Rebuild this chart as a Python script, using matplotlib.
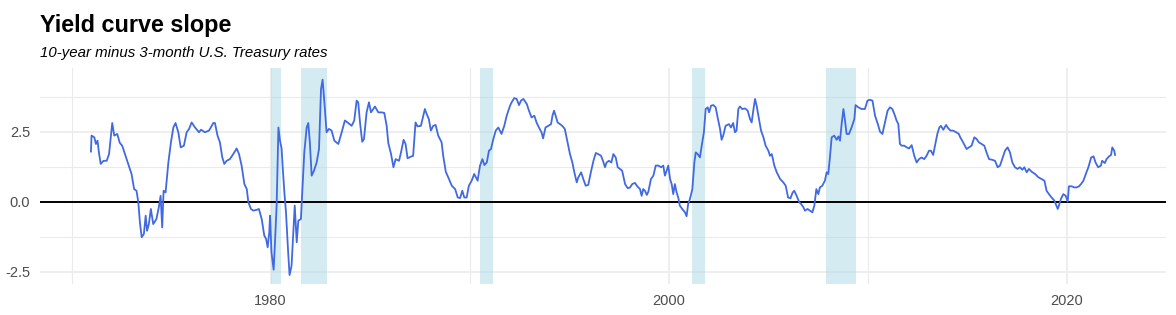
import matplotlib
matplotlib.use("Agg")
import matplotlib.pyplot as plt
from matplotlib.ticker import MultipleLocator

# spread between 10-year and 3-month treasury
years = [1970.97, 1971.0, 1971.14, 1971.22, 1971.3, 1971.37, 1971.46, 1971.6, 1971.76, 1971.88,
         1972.04, 1972.14, 1972.29, 1972.42, 1972.54, 1972.68, 1972.84, 1973.01, 1973.14, 1973.26,
         1973.35, 1973.43, 1973.52, 1973.63, 1973.72, 1973.79, 1973.88, 1973.98, 1974.1, 1974.26,
         1974.38, 1974.47, 1974.55, 1974.62, 1974.72, 1974.86, 1974.99, 1975.11, 1975.22, 1975.36,
         1975.48, 1975.64, 1975.78, 1975.9, 1976.03, 1976.2, 1976.4, 1976.5, 1976.7, 1976.9, 1977.12,
         1977.2, 1977.33, 1977.45, 1977.57, 1977.67, 1977.79, 1977.95, 1978.12, 1978.29, 1978.41,
         1978.54, 1978.68, 1978.8, 1978.88, 1979.01, 1979.13, 1979.3, 1979.41, 1979.55, 1979.68,
         1979.77, 1979.85, 1979.93, 1979.97, 1980.04, 1980.15, 1980.21, 1980.3, 1980.39, 1980.47,
         1980.55, 1980.6, 1980.69, 1980.77, 1980.88, 1980.95, 1981.05, 1981.13, 1981.21, 1981.31,
         1981.39, 1981.52, 1981.59, 1981.69, 1981.81, 1981.89, 1981.97, 1982.06, 1982.18, 1982.31,
         1982.43, 1982.53, 1982.61, 1982.7, 1982.81, 1982.93, 1983.06, 1983.2, 1983.4, 1983.57,
         1983.73, 1983.9, 1984.07, 1984.2, 1984.32, 1984.4, 1984.49, 1984.6, 1984.69, 1984.82,
         1984.94, 1985.04, 1985.24, 1985.41, 1985.58, 1985.71, 1985.83, 1985.91, 1986.05, 1986.17,
         1986.28, 1986.45, 1986.55, 1986.68, 1986.78, 1986.88, 1987.08, 1987.16, 1987.28, 1987.38,
         1987.55, 1987.67, 1987.75, 1987.84, 1987.95, 1988.05, 1988.17, 1988.29, 1988.42, 1988.59,
         1988.67, 1988.8, 1988.96, 1989.1, 1989.27, 1989.4, 1989.52, 1989.63, 1989.73, 1989.85,
         1989.96, 1990.1, 1990.23, 1990.4, 1990.52, 1990.64, 1990.74, 1990.86, 1990.97, 1991.07,
         1991.19, 1991.31, 1991.44, 1991.6, 1991.74, 1991.86, 1992.03, 1992.11, 1992.24, 1992.36,
         1992.48, 1992.58, 1992.7, 1992.87, 1992.98, 1993.11, 1993.25, 1993.36, 1993.48, 1993.61,
         1993.69, 1993.81, 1993.95, 1994.09, 1994.16, 1994.24, 1994.32, 1994.42, 1994.54, 1994.65,
         1994.78, 1994.92, 1995.04, 1995.16, 1995.26, 1995.38, 1995.46, 1995.6, 1995.71, 1995.83,
         1995.96, 1996.09, 1996.22, 1996.34, 1996.46, 1996.6, 1996.7, 1996.8, 1996.88, 1997.0,
         1997.12, 1997.22, 1997.34, 1997.44, 1997.55, 1997.66, 1997.81, 1997.94, 1998.06, 1998.17,
         1998.31, 1998.42, 1998.56, 1998.64, 1998.72, 1998.81, 1998.9, 1998.98, 1999.11, 1999.23,
         1999.35, 1999.48, 1999.62, 1999.73, 1999.81, 1999.9, 1999.98, 2000.07, 2000.15, 2000.23,
         2000.31, 2000.4, 2000.48, 2000.56, 2000.68, 2000.82, 2000.9, 2000.98, 2001.07, 2001.19,
         2001.29, 2001.36, 2001.46, 2001.57, 2001.66, 2001.77, 2001.86, 2001.96, 2002.03, 2002.13,
         2002.25, 2002.36, 2002.46, 2002.58, 2002.66, 2002.74, 2002.86, 2003.03, 2003.13, 2003.24,
         2003.33, 2003.41, 2003.5, 2003.58, 2003.7, 2003.84, 2003.97, 2004.09, 2004.17, 2004.25,
         2004.34, 2004.42, 2004.54, 2004.64, 2004.76, 2004.87, 2005.01, 2005.09, 2005.18, 2005.31,
         2005.43, 2005.6, 2005.76, 2005.88, 2006.0, 2006.12, 2006.23, 2006.31, 2006.43, 2006.55,
         2006.65, 2006.77, 2006.85, 2006.98, 2007.1, 2007.22, 2007.32, 2007.42, 2007.52, 2007.6,
         2007.72, 2007.85, 2007.94, 2008.02, 2008.11, 2008.19, 2008.32, 2008.44, 2008.53, 2008.61,
         2008.69, 2008.78, 2008.86, 2008.94, 2009.06, 2009.19, 2009.33, 2009.39, 2009.53, 2009.69,
         2009.86, 2009.99, 2010.11, 2010.24, 2010.37, 2010.51, 2010.62, 2010.74, 2010.87, 2011.0,
         2011.12, 2011.24, 2011.34, 2011.45, 2011.54, 2011.62, 2011.71, 2011.84, 2011.96, 2012.08,
         2012.21, 2012.34, 2012.46, 2012.58, 2012.71, 2012.84, 2012.96, 2013.08, 2013.18, 2013.29,
         2013.38, 2013.5, 2013.6, 2013.68, 2013.8, 2013.94, 2014.04, 2014.16, 2014.28, 2014.45,
         2014.58, 2014.65, 2014.75, 2014.97, 2015.09, 2015.22, 2015.36, 2015.47, 2015.59, 2015.73,
         2015.86, 2015.98, 2016.1, 2016.24, 2016.4, 2016.53, 2016.65, 2016.76, 2016.9, 2017.03,
         2017.15, 2017.27, 2017.4, 2017.53, 2017.65, 2017.77, 2017.87, 2017.99, 2018.1, 2018.24,
         2018.41, 2018.58, 2018.74, 2018.88, 2018.99, 2019.11, 2019.24, 2019.38, 2019.45, 2019.55,
         2019.61, 2019.71, 2019.83, 2019.95, 2020.05, 2020.11, 2020.25, 2020.38, 2020.5, 2020.62,
         2020.72, 2020.84, 2020.96, 2021.09, 2021.23, 2021.35, 2021.45, 2021.58, 2021.72, 2021.78,
         2021.92, 2022.0, 2022.13, 2022.23, 2022.29, 2022.39, 2022.43]
spread = [1.79, 2.36, 2.3, 2.06, 2.18, 1.76, 1.35, 1.46, 1.46, 1.7,
          2.81, 2.36, 2.42, 2.1, 2.0, 1.7, 1.35, 0.99, 0.45, 0.39,
          -0.02, -0.74, -1.27, -1.15, -0.5, -1.04, -0.8, -0.26, -0.8, -0.62,
          -0.2, 0.21, -0.92, 0.39, 0.33, 1.4, 2.12, 2.65, 2.81, 2.48,
          1.94, 2.0, 2.48, 2.6, 2.83, 2.65, 2.48, 2.57, 2.48, 2.54, 2.81,
          2.81, 2.36, 2.12, 1.58, 1.35, 1.46, 1.52, 1.7, 1.9, 1.7,
          1.29, 0.63, 0.45, -0.02, -0.26, -0.32, -0.29, -0.26, -0.62, -1.21,
          -1.33, -1.63, -1.1, -0.5, -1.81, -2.43, -1.57, -0.14, 2.65, 2.18,
          1.9, 1.29, 0.33, -0.38, -1.81, -2.62, -2.29, -1.21, -0.14, -1.45,
          -0.68, -0.62, 0.33, 1.76, 2.65, 2.81, 2.12, 0.93, 1.11, 1.4,
          1.88, 4.02, 4.36, 3.55, 2.48, 2.6, 2.54, 2.18, 2.06, 2.48,
          2.9, 2.81, 2.71, 2.9, 3.61, 3.55, 2.83, 2.14, 2.24, 3.19,
          3.55, 3.19, 3.4, 3.19, 3.19, 3.17, 2.71, 2.1, 1.7, 1.23,
          1.52, 1.46, 1.76, 2.21, 2.06, 1.55, 1.62, 1.64, 2.83, 2.69,
          2.71, 3.07, 3.31, 3.13, 2.95, 2.54, 2.71, 2.74, 2.36, 2.12,
          1.64, 1.07, 0.81, 0.57, 0.45, 0.15, 0.13, 0.39, 0.15, 0.15,
          0.57, 0.75, 0.99, 0.75, 1.29, 1.52, 1.31, 1.4, 1.82, 1.88,
          2.24, 2.54, 2.65, 2.42, 2.71, 3.07, 3.43, 3.55, 3.7, 3.67,
          3.45, 3.61, 3.67, 3.49, 3.25, 3.01, 3.07, 2.83, 2.65, 2.48,
          2.26, 2.65, 2.71, 2.77, 3.07, 3.25, 3.07, 2.83, 2.77, 2.71,
          2.6, 2.12, 1.7, 1.4, 1.05, 0.69, 0.87, 1.05, 0.81, 0.57,
          0.6, 1.05, 1.46, 1.74, 1.7, 1.64, 1.46, 1.23, 1.4, 1.46,
          1.4, 1.7, 1.58, 1.23, 1.17, 1.11, 0.63, 0.48, 0.51, 0.63,
          0.67, 0.55, 0.45, 0.21, 0.45, 0.39, 0.24, 0.36, 0.81, 0.93,
          1.29, 1.29, 1.23, 1.29, 0.93, 1.11, 1.29, 0.81, 0.63, 0.27,
          0.63, 0.33, 0.15, -0.14, -0.26, -0.38, -0.52, -0.08, 0.1, 0.45,
          1.4, 1.76, 1.7, 1.58, 2.0, 2.48, 3.31, 3.37, 3.19, 3.43,
          3.45, 3.37, 3.01, 2.6, 2.21, 2.36, 2.71, 2.77, 2.65, 2.81,
          2.48, 2.54, 3.31, 3.4, 3.31, 3.33, 3.25, 2.95, 2.83, 3.25,
          3.67, 3.43, 2.95, 2.54, 2.3, 2.0, 1.82, 1.64, 1.7, 1.29,
          1.05, 0.81, 0.69, 0.57, 0.15, 0.12, 0.33, 0.39, 0.21, 0.0,
          -0.08, -0.2, -0.32, -0.26, -0.32, -0.38, -0.14, 0.45, 0.27, 0.51,
          0.57, 0.75, 1.05, 0.99, 1.64, 2.3, 2.36, 2.21, 2.33, 2.18,
          2.77, 3.31, 2.9, 2.42, 2.42, 2.65, 2.95, 3.45, 3.37, 3.31,
          3.31, 3.61, 3.64, 3.61, 3.07, 2.77, 2.5, 2.42, 2.83, 3.25,
          3.37, 3.31, 3.13, 2.9, 2.77, 2.06, 2.0, 2.0, 1.94, 1.9,
          2.02, 1.64, 1.4, 1.52, 1.58, 1.52, 1.64, 1.82, 1.82, 1.67,
          2.0, 2.42, 2.65, 2.71, 2.57, 2.74, 2.63, 2.54, 2.54, 2.48,
          2.42, 2.3, 2.18, 1.88, 1.94, 2.0, 2.3, 2.24, 2.12, 2.06,
          2.0, 1.74, 1.52, 1.5, 1.46, 1.23, 1.29, 1.52, 1.82, 1.94,
          1.76, 1.4, 1.23, 1.17, 1.23, 1.14, 1.23, 1.05, 1.17, 1.07,
          0.99, 0.87, 0.81, 0.75, 0.39, 0.27, 0.15, 0.04, -0.08, -0.26,
          -0.14, 0.1, 0.27, 0.21, 0.0, 0.55, 0.55, 0.51, 0.51, 0.55,
          0.63, 0.75, 0.99, 1.23, 1.58, 1.62, 1.4, 1.23, 1.29, 1.46,
          1.38, 1.52, 1.62, 1.67, 1.94, 1.82, 1.67]

# NBER recessions (start, end)
rec_start = [1980.0, 1981.5, 1990.5, 2001.17, 2007.92]
rec_end = [1980.5, 1982.83, 1991.17, 2001.83, 2009.42]

fig = plt.figure(figsize=(11.76, 3.15), dpi=100)
ax = fig.add_axes([40/1176, 31/315, 1126/1176, 216/315])

for s, e in zip(rec_start, rec_end):
    ax.axvspan(s, e, color="lightblue", alpha=0.5, lw=0, zorder=1)

ax.axhline(0, color="black", lw=1.4, zorder=2)
ax.plot(years, spread, color="royalblue", lw=1.3, zorder=3)

ax.set_xlim(1968.41, 2024.99)
ax.set_ylim(-2.94, 4.775)
ax.xaxis.set_major_locator(MultipleLocator(20))
ax.xaxis.set_minor_locator(MultipleLocator(10))
ax.yaxis.set_major_locator(MultipleLocator(2.5))
ax.yaxis.set_minor_locator(MultipleLocator(1.25))
ax.yaxis.set_major_formatter(matplotlib.ticker.FormatStrFormatter("%.1f"))

ax.grid(which="major", color="#EBEBEB", lw=1.2, zorder=0)
ax.grid(which="minor", color="#EBEBEB", lw=0.8, zorder=0)
ax.set_axisbelow(True)
for sp in ax.spines.values():
    sp.set_visible(False)
ax.tick_params(which="both", length=0, labelsize=10.5, labelcolor="#4D4D4D")
ax.tick_params(axis="y", pad=7)
ax.tick_params(axis="x", pad=7)
for lab in ax.get_xticklabels() + ax.get_yticklabels():
    lab.set_fontfamily("Liberation Sans")

fig.text(40/1176, 1 - 31.7/315, "Yield curve slope", fontsize=16.8, fontweight="bold",
         family="Liberation Sans", va="baseline")
fig.text(40/1176, 1 - 57.3/315, "10-year minus 3-month U.S. Treasury rates", fontsize=10.8,
         style="italic", family="Liberation Sans", va="baseline")

fig.savefig("out.png", dpi=100, facecolor="white")
